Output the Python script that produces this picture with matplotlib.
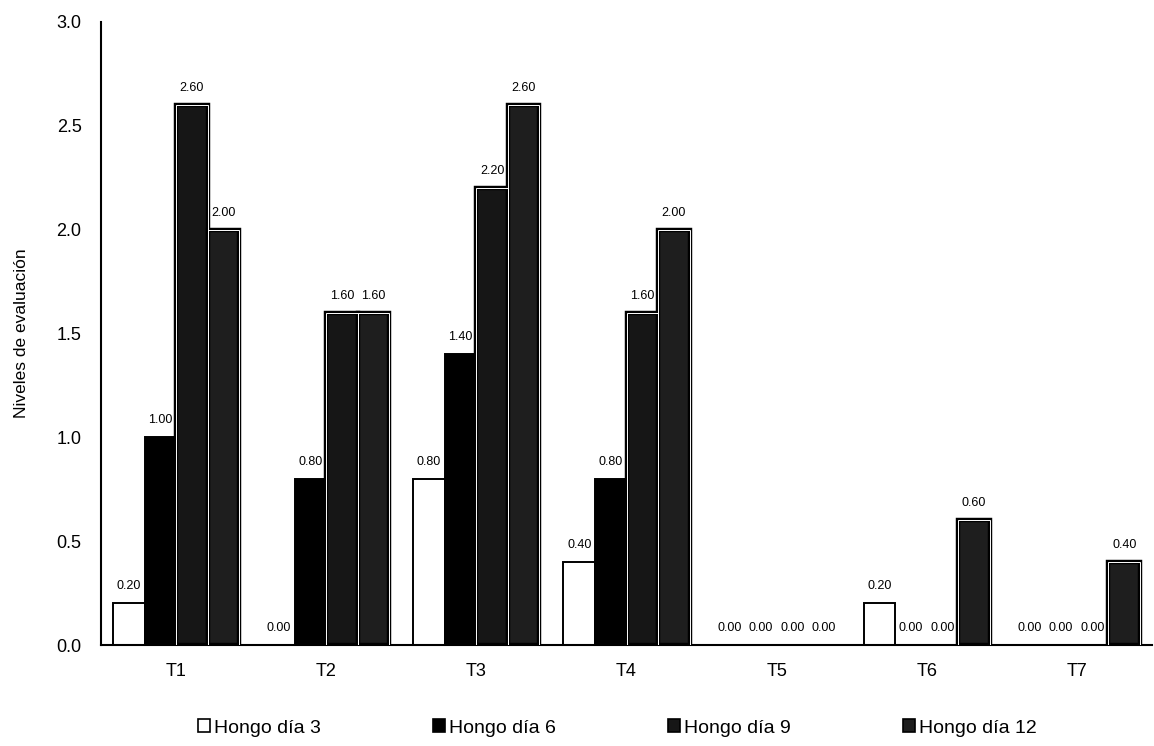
import matplotlib
matplotlib.use("Agg")
import matplotlib.pyplot as plt
import numpy as np
from matplotlib.patches import Patch

plt.rcParams['font.family'] = ['Liberation Sans', 'DejaVu Sans']

categories = ["T1", "T2", "T3", "T4", "T5", "T6", "T7"]
series_names = ["Hongo día 3", "Hongo día 6", "Hongo día 9", "Hongo día 12"]
dia3 = [0.20, 0.00, 0.80, 0.40, 0.00, 0.20, 0.00]
dia6 = [1.00, 0.80, 1.40, 0.80, 0.00, 0.00, 0.00]
dia9 = [2.60, 1.60, 2.20, 1.60, 0.00, 0.00, 0.00]
dia12 = [2.00, 1.60, 2.60, 2.00, 0.00, 0.60, 0.40]
series = [dia3, dia6, dia9, dia12]
y_ticks = [0.0, 0.5, 1.0, 1.5, 2.0, 2.5, 3.0]

fig = plt.figure(figsize=(11.54, 7.46), dpi=100)
ax = fig.add_axes([101/1154, 1 - 645/746, (1152 - 101)/1154, (645 - 22)/746])

x = np.arange(len(categories))
w = 0.21
offsets = [-1.5, -0.5, 0.5, 1.5]
faces = ['white', 'black', '#161616', '#1e1e1e']

for k, vals in enumerate(series):
    xs = x + offsets[k] * w
    if k < 2:
        bars = ax.bar(xs, vals, width=w, color=faces[k], edgecolor='black', linewidth=1.4, zorder=2)
        for b, v in zip(bars, vals):
            if v == 0:
                b.set_linewidth(0)
    else:
        bars = ax.bar(xs, vals, width=w, color=faces[k], edgecolor='black', linewidth=3.2, zorder=2)
        inner = ax.bar(xs, vals, width=w, fill=False, edgecolor='white', linewidth=0.7, zorder=3)
        for b, bi, v in zip(bars, inner, vals):
            if v == 0:
                b.set_linewidth(0)
                bi.set_linewidth(0)
    for xi, v in zip(xs, vals):
        ax.annotate(f"{v:.2f}", (xi, v), xytext=(0, 8), textcoords='offset points',
                    ha='center', va='bottom', fontsize=9, color='black')

ax.set_xlim(-0.5, 6.5)
ax.set_ylim(0, 3.0)
ax.set_yticks(y_ticks)
ax.set_yticklabels([f"{t:.1f}" for t in y_ticks])
ax.set_xticks(x)
ax.set_xticklabels(categories)
ax.tick_params(axis='both', length=0, labelsize=13)
ax.tick_params(axis='y', pad=14)
ax.tick_params(axis='x', pad=13)
ax.spines['top'].set_visible(False)
ax.spines['right'].set_visible(False)
ax.spines['left'].set_linewidth(1.5)
ax.spines['bottom'].set_linewidth(1.5)
ax.set_ylabel("Niveles de evaluación", fontsize=12.5, labelpad=20)

handles = [
    Patch(facecolor='white', edgecolor='black', linewidth=1.2),
    Patch(facecolor='black', edgecolor='black', linewidth=1.2),
    Patch(facecolor='#161616', edgecolor='black', linewidth=1.2),
    Patch(facecolor='#1e1e1e', edgecolor='black', linewidth=1.2),
]
fig.legend(handles, series_names, loc='center', bbox_to_anchor=(0.535, 1 - 728/746), ncol=4,
           frameon=False, fontsize=14, handlelength=0.6, handleheight=0.6,
           handletextpad=0.2, columnspacing=5.8)

fig.savefig("out.png", dpi=100)
